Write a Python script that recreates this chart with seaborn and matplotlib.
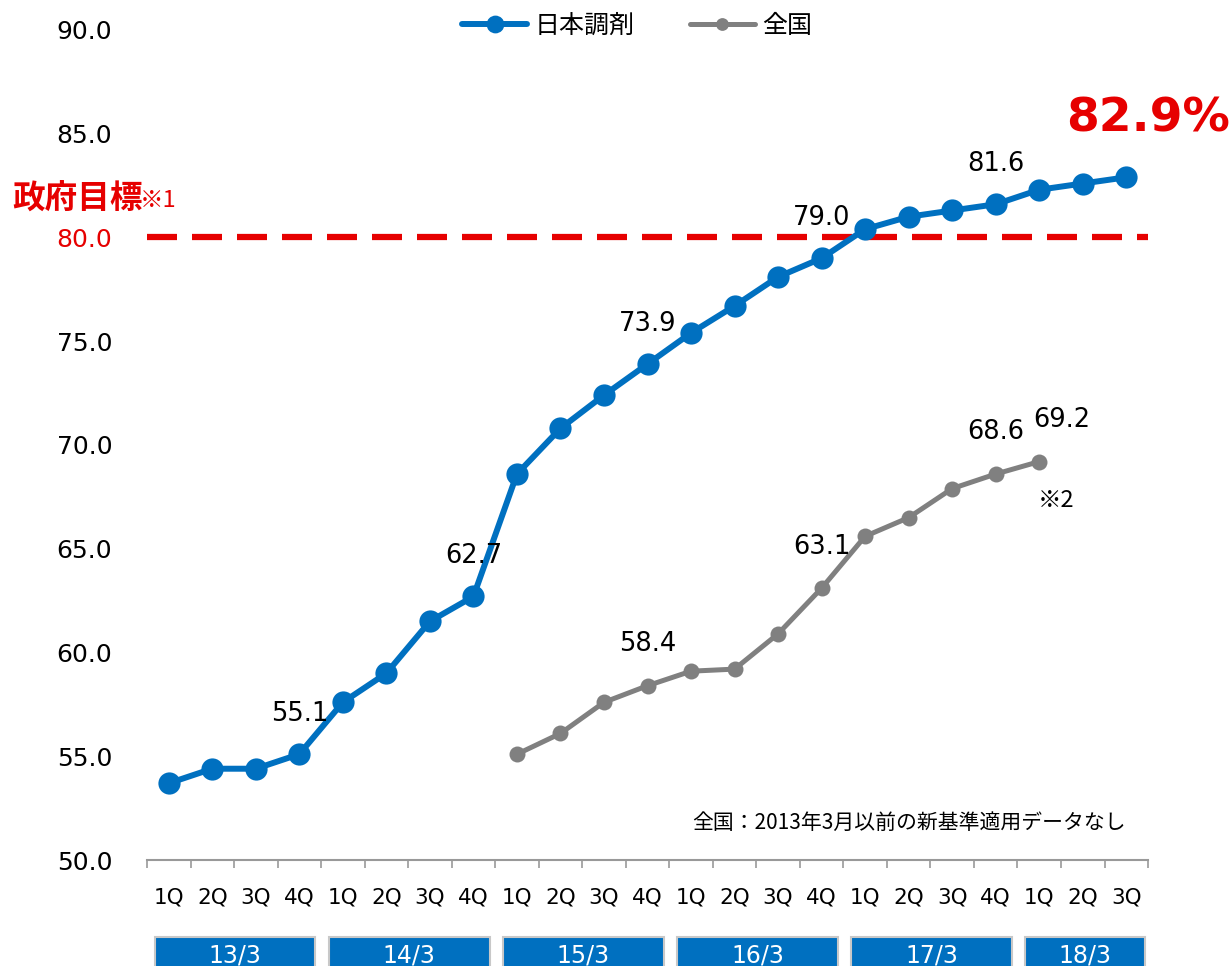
import numpy as np
import pandas as pd
import matplotlib
matplotlib.use("Agg")
import matplotlib.pyplot as plt
from matplotlib.patches import Rectangle
import matplotlib.transforms as mtransforms
import seaborn as sns

# data
quarters = ["1Q", "2Q", "3Q", "4Q"] * 5 + ["1Q", "2Q", "3Q"]
years = ["13/3", "14/3", "15/3", "16/3", "17/3", "18/3"]
nichi = [53.7, 54.4, 54.4, 55.1, 57.6, 59.0, 61.5, 62.7, 68.6, 70.8, 72.4, 73.9,
         75.4, 76.7, 78.1, 79.0, 80.4, 81.0, 81.3, 81.6, 82.3, 82.6, 82.9]
zenkoku = [np.nan] * 8 + [55.1, 56.1, 57.6, 58.4, 59.1, 59.2, 60.9, 63.1,
                          65.6, 66.5, 67.9, 68.6, 69.2, np.nan, np.nan]
target = 80.0
nichi_labels = [3, 7, 11, 15, 19]
zenkoku_labels = [11, 15, 19, 20]

BLUE = "#0070C0"
GRAY = "#808080"
RED = "#E60000"

sns.set_theme(style="white")
plt.rcParams["font.family"] = ["DejaVu Sans", "Noto Sans CJK JP"]
plt.rcParams["text.color"] = "black"
JP = ["Noto Sans CJK JP", "DejaVu Sans"]

df = pd.DataFrame({"x": np.arange(len(quarters)), "nichi": nichi, "zenkoku": zenkoku})

fig = plt.figure(figsize=(12.31, 9.66), dpi=100)
ax = fig.add_axes([0.1194, 0.1097, 0.8132, 0.8593])

ax.axhline(target, color=RED, lw=4.5, dashes=(4.8, 2.4), zorder=1)

sns.lineplot(data=df, x="x", y="nichi", ax=ax, color=BLUE, lw=4.3, marker="o",
             markersize=16, markeredgewidth=0, label="日本調剤", zorder=3)
sns.lineplot(data=df.dropna(), x="x", y="zenkoku", ax=ax, color=GRAY, lw=3.6, marker="o",
             markersize=11.5, markeredgewidth=0, label="全国", zorder=2)

for i in nichi_labels:
    ax.annotate(f"{nichi[i]:.1f}", (i, nichi[i]), xytext=(0, 29), textcoords="offset points",
                ha="center", va="center", fontsize=18.5, color="black")
for i in zenkoku_labels:
    dx = 16 if i == 20 else 0
    ax.annotate(f"{zenkoku[i]:.1f}", (i, zenkoku[i]), xytext=(dx, 30), textcoords="offset points",
                ha="center", va="center", fontsize=18.5, color="black")
ax.annotate("※2", (20, zenkoku[20]), xytext=(12, -28), textcoords="offset points",
            ha="center", va="center", fontsize=17, color="black", family=JP)

ax.annotate(f"{nichi[-1]:.1f}%", (22, nichi[-1]), xytext=(16, 42), textcoords="offset points",
            ha="center", va="center", fontsize=34, fontweight="bold", color=RED,
            annotation_clip=False)

ax.set_xlim(-0.5, len(quarters) - 0.5)
ax.set_ylim(50, 90)
ax.set_yticks(np.arange(50, 91, 5))
ax.set_yticklabels([f"{v:.1f}" for v in np.arange(50, 91, 5)], fontsize=18)
ax.tick_params(axis="both", labelcolor="black")
for t in ax.get_yticklabels():
    if t.get_text() == "80.0":
        t.set_color(RED)
ax.tick_params(axis="y", length=0, pad=25)
ax.set_xticks(np.arange(len(quarters)))
ax.set_xticklabels(quarters, fontsize=15.5)
ax.set_xticks(np.arange(-0.5, len(quarters), 1), minor=True)
ax.tick_params(axis="x", which="major", length=0, pad=20)
ax.tick_params(axis="x", which="minor", length=6, width=1.2, color="#999999", direction="out", bottom=True)
ax.set_xlabel("")
ax.set_ylabel("")
for s in ["left", "right", "top"]:
    ax.spines[s].set_visible(False)
ax.spines["bottom"].set_color("#999999")
ax.spines["bottom"].set_linewidth(1.5)

# year boxes
trans = mtransforms.blended_transform_factory(ax.transData, ax.transAxes)
for k, yr in enumerate(years):
    x0 = 4 * k - 0.32
    x1 = min(4 * k + 3.37, 22.44)
    ax.add_patch(Rectangle((x0, -0.16), x1 - x0, 0.067, transform=trans, clip_on=False,
                           facecolor=BLUE, edgecolor="#C8C8C8", lw=1.5))
    ax.text((x0 + x1) / 2, -0.115, yr, transform=trans, ha="center", va="center",
            fontsize=17, color="white", clip_on=False)

ax.text(22.0, 55.6 - 3.8, "全国：2013年3月以前の新基準適用データなし", ha="right", va="center",
        fontsize=15, family=JP)

fig.text(0.0097, 0.794, "政府目標", color=RED, fontsize=23.5, fontweight="bold", family=JP,
         ha="left", va="center")
fig.text(0.1137, 0.792, "※1", color=RED, fontsize=17, family=JP, ha="left", va="center")

ax.legend(loc="upper center", bbox_to_anchor=(0.49, 1.048), ncol=2, frameon=False,
          prop={"family": JP, "size": 18}, handlelength=2.6, markerscale=0.8,
          columnspacing=2.2, handletextpad=0.3)

fig.savefig("out.png", dpi=100)
